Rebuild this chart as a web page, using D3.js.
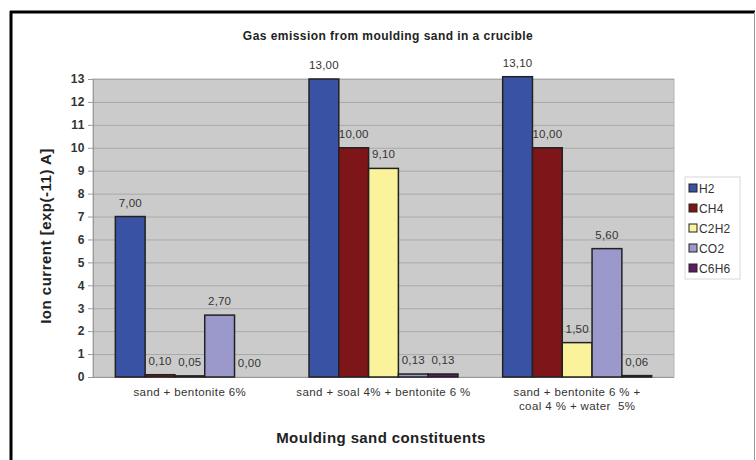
<!DOCTYPE html>
<html>
<head>
<meta charset="utf-8">
<script src="https://cdn.jsdelivr.net/npm/d3@7"></script>
<style>
  html, body { margin: 0; padding: 0; background: #fff; }
  svg { display: block; font-family: "Liberation Sans", Arial, sans-serif; }
  .cat-label { white-space: pre; }
</style>
</head>
<body>
<svg id="chart" width="756" height="460"></svg>
<script>
// Gas emission data (ion current, exp(-11) A)
const categories = [
  ["sand + bentonite 6%"],
  ["sand + soal 4% + bentonite 6 %"],
  ["sand + bentonite 6 % +", "coal 4 % + water  5%"]
];
const seriesNames = ["H2", "CH4", "C2H2", "CO2", "C6H6"];
const H2   = [7.00, 13.00, 13.10];
const CH4  = [0.10, 10.00, 10.00];
const C2H2 = [0.05, 9.10, 1.50];
const CO2  = [2.70, 0.13, 5.60];
const C6H6 = [0.00, 0.13, 0.06];
const seriesValues = [H2, CH4, C2H2, CO2, C6H6];
const seriesColors = ["#3a52a3", "#7e1518", "#fbf39c", "#9b98cc", "#5e1c62"];
const yTicks = d3.range(0, 14);

const svg = d3.select("#chart");

// outer frame
svg.append("line").attr("x1", 11).attr("x2", 11).attr("y1", 11).attr("y2", 460)
  .attr("stroke", "#000").attr("stroke-width", 3);
svg.append("line").attr("x1", 10).attr("x2", 755).attr("y1", 12).attr("y2", 12)
  .attr("stroke", "#000").attr("stroke-width", 3);
svg.append("line").attr("x1", 754.5).attr("x2", 754.5).attr("y1", 12).attr("y2", 460)
  .attr("stroke", "#999").attr("stroke-width", 1);

const plot = { left: 93, right: 674, top: 79, bottom: 377 };

const x0 = d3.scaleBand().domain(d3.range(categories.length))
  .range([plot.left, plot.right]).paddingInner(0).paddingOuter(0);
// five bars per group with a 150% gap between groups
const x1 = d3.scaleBand().domain(d3.range(seriesNames.length))
  .range([0, x0.bandwidth()]).paddingInner(0).paddingOuter(0.75);
const y = d3.scaleLinear().domain([0, 13]).range([plot.bottom, plot.top]);

// plot area
svg.append("rect").attr("x", plot.left).attr("y", plot.top)
  .attr("width", plot.right - plot.left).attr("height", plot.bottom - plot.top)
  .attr("fill", "#cbcbcb").attr("stroke", "#b4b4b4").attr("stroke-width", 1);

// grid lines
svg.append("g").selectAll("line").data(yTicks.filter(d => d > 0)).join("line")
  .attr("x1", plot.left).attr("x2", plot.right)
  .attr("y1", d => y(d) + 0.5).attr("y2", d => y(d) + 0.5)
  .attr("stroke", "#a9a9a9").attr("stroke-width", 1);

// y axis
const yAxis = svg.append("g").attr("transform", `translate(${plot.left},0)`)
  .call(d3.axisLeft(y).tickValues(yTicks).tickSize(5).tickPadding(3));
yAxis.select(".domain").attr("stroke", "#9a9a9a");
yAxis.selectAll(".tick line").attr("stroke", "#9a9a9a");
yAxis.selectAll(".tick text").attr("font-size", 12).attr("font-weight", "bold")
  .attr("letter-spacing", 0.5)
  .attr("fill", "#333").attr("font-family", "Liberation Sans, Arial, sans-serif");

// x axis baseline
svg.append("line").attr("x1", plot.left).attr("x2", plot.right)
  .attr("y1", plot.bottom + 0.5).attr("y2", plot.bottom + 0.5)
  .attr("stroke", "#9a9a9a");

// bars
const groups = svg.append("g").selectAll("g").data(categories).join("g")
  .attr("transform", (d, i) => `translate(${x0(i)},0)`);

groups.each(function (cat, ci) {
  const g = d3.select(this);
  seriesValues.forEach((vals, si) => {
    const v = vals[ci];
    g.append("rect")
      .attr("x", x1(si)).attr("width", x1.bandwidth())
      .attr("y", y(v)).attr("height", Math.max(0, y(0) - y(v)))
      .attr("fill", seriesColors[si]).attr("stroke", "#222").attr("stroke-width", 1.5);
    g.append("text")
      .attr("x", x1(si) + x1.bandwidth() / 2).attr("y", y(v) - 10)
      .attr("text-anchor", "middle").attr("font-size", 11.5).attr("letter-spacing", 0.2)
      .attr("fill", "#333")
      .text(d3.format(".2f")(v).replace(".", ","));
  });
  // category label
  const t = g.append("text").attr("class", "cat-label")
    .attr("x", x0.bandwidth() / 2).attr("y", plot.bottom + 19)
    .attr("text-anchor", "middle").attr("font-size", 11.5).attr("letter-spacing", 0.4)
    .attr("fill", "#333");
  cat.forEach((line, li) => {
    t.append("tspan").attr("x", x0.bandwidth() / 2).attr("dy", li === 0 ? 0 : 14).text(line);
  });
});

// titles
svg.append("text").attr("x", 388).attr("y", 40).attr("text-anchor", "middle")
  .attr("font-size", 12).attr("font-weight", "bold").attr("letter-spacing", 0.45)
  .attr("fill", "#222")
  .text("Gas emission from moulding sand in a crucible");
svg.append("text").attr("x", 381).attr("y", 443).attr("text-anchor", "middle")
  .attr("font-size", 15).attr("font-weight", "bold").attr("letter-spacing", 0.4)
  .attr("fill", "#222")
  .text("Moulding sand constituents");
svg.append("text").attr("transform", "translate(51,236) rotate(-90)")
  .attr("text-anchor", "middle").attr("font-size", 15).attr("font-weight", "bold")
  .attr("letter-spacing", 0.5).attr("fill", "#222")
  .text("Ion current [exp(-11) A]");

// legend
const legend = svg.append("g").attr("transform", "translate(685,177)");
legend.append("rect").attr("width", 55).attr("height", 102)
  .attr("fill", "#fff").attr("stroke", "#d8d8d8");
const item = legend.selectAll("g").data(seriesNames).join("g")
  .attr("transform", (d, i) => `translate(4,${11 + i * 20})`);
item.append("rect").attr("x", 0).attr("y", -4).attr("width", 8).attr("height", 8)
  .attr("fill", (d, i) => seriesColors[i]).attr("stroke", "#222").attr("stroke-width", 1);
item.append("text").attr("x", 10).attr("y", 4.5).attr("font-size", 12).attr("letter-spacing", 0.2)
  .attr("fill", "#333")
  .text(d => d);
</script>
</body>
</html>
